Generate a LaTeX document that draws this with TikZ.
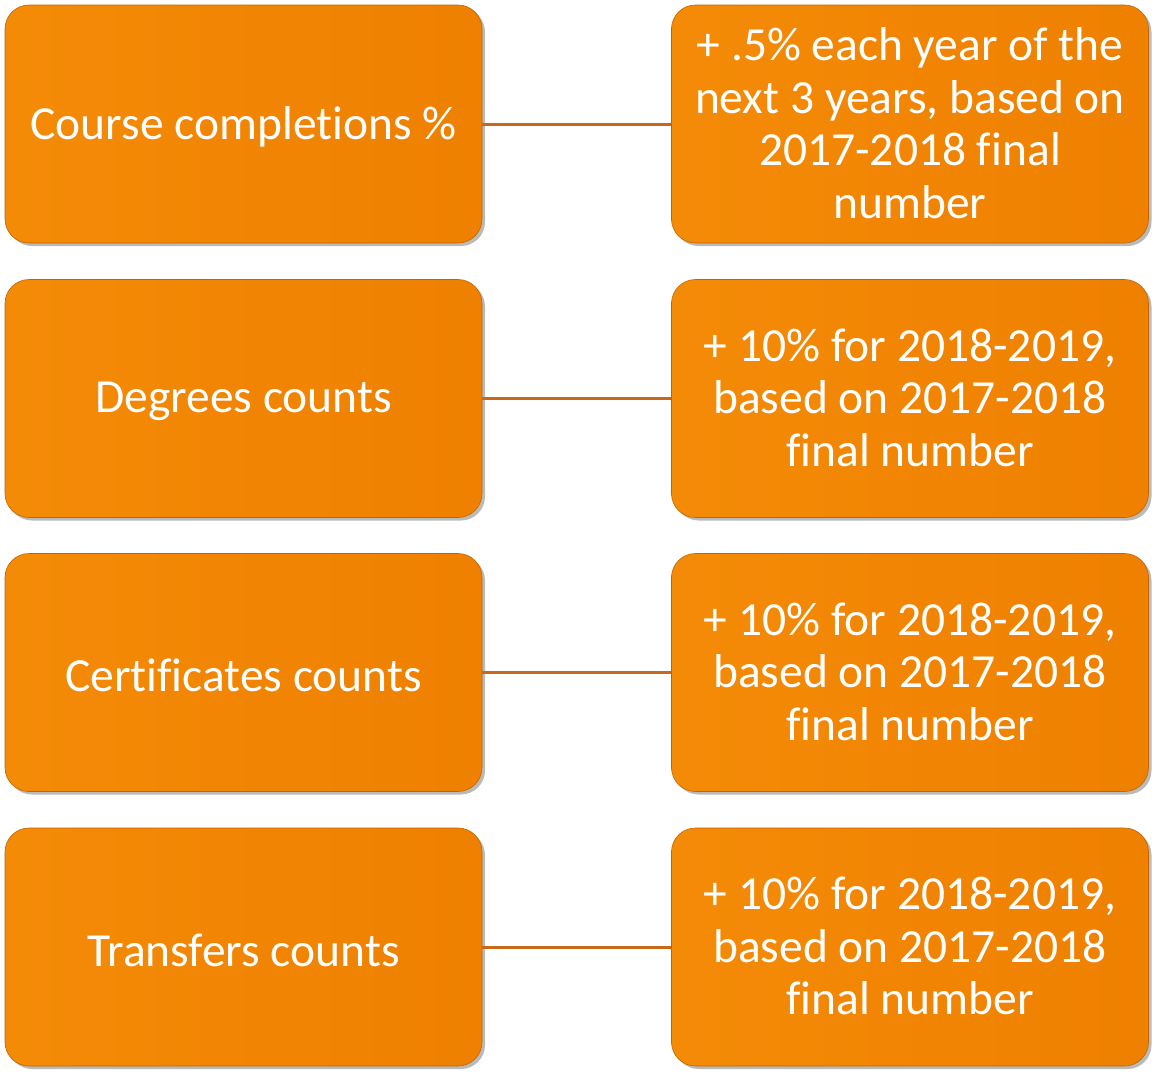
\documentclass[tikz,border=0pt]{standalone}
\usepackage{fontspec}
\setmainfont{Carlito}[Ligatures=NoCommon]
\usetikzlibrary{shadows}
\definecolor{orA}{HTML}{F48B07}
\definecolor{orB}{HTML}{EF8000}
\definecolor{linkc}{HTML}{C8681A}
\tikzset{
  x=1pt,y=-1pt,
  box/.style={rounded corners=24pt, minimum width=477pt, minimum height=238pt,
    left color=orA, right color=orB, draw=orB!80!black, line width=0.6pt,
    drop shadow={shadow xshift=3pt, shadow yshift=-3pt, opacity=0.45, fill=black!60},
    inner sep=0pt},
  txt/.style={text=white, align=center, font=\fontsize{47.5}{52.5}\selectfont, inner sep=0pt, yshift=-3pt},
  txtr/.style={txt, yshift=4pt},
  link/.style={draw=linkc, line width=3pt}
}
\begin{document}
\begin{tikzpicture}
\useasboundingbox[fill=white] (0,0) rectangle (1152,1074);
\node[box] (l1) at (243.5,124) {};
\node[box] (r1) at (910,124) {};
\node[box] (l2) at (243.5,398.5) {};
\node[box] (r2) at (910,398.5) {};
\node[box] (l3) at (243.5,672.5) {};
\node[box] (r3) at (910,672.5) {};
\node[box] (l4) at (243.5,947) {};
\node[box] (r4) at (910,947) {};
\node[txt] (tl1) at (l1.center) {Course completions \%};
\node[txtr] (tr1) at (r1.center) {+ .5\% each year of the\\next 3 years, based on\\2017-2018 final\\number};
\node[txt] (tl2) at (l2.center) {Degrees counts};
\node[txtr] (tr2) at (r2.center) {+ 10\% for 2018-2019,\\based on 2017-2018\\final number};
\node[txt] (tl3) at (l3.center) {Certificates counts};
\node[txtr] (tr3) at (r3.center) {+ 10\% for 2018-2019,\\based on 2017-2018\\final number};
\node[txt] (tl4) at (l4.center) {Transfers counts};
\node[txtr] (tr4) at (r4.center) {+ 10\% for 2018-2019,\\based on 2017-2018\\final number};
\foreach \i in {1,2,3,4} \draw[link] (l\i.east) -- (r\i.west);
\end{tikzpicture}
\end{document}
